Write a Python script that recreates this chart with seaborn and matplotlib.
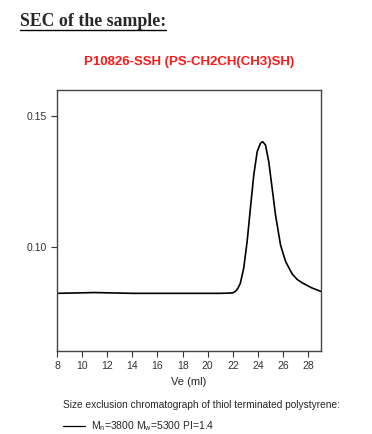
import numpy as np
import pandas as pd
import matplotlib
matplotlib.use("Agg")
import matplotlib.pyplot as plt
import seaborn as sns
from matplotlib.lines import Line2D

# Elution volume (ml) and detector response
ve = [8.0, 9.0, 10.0, 11.0, 12.0, 13.0, 14.0, 16.0, 18.0, 20.0, 21.0, 21.8,
      22.0, 22.2, 22.4, 22.6, 22.87, 23.14, 23.40, 23.67, 23.94, 24.20,
      24.38, 24.60, 24.86, 25.13, 25.40, 25.80, 26.20, 26.73, 27.13, 27.53,
      28.33, 29.04]
signal = [0.0821, 0.0822, 0.0823, 0.0824, 0.0823, 0.0822, 0.0821, 0.0821,
          0.0821, 0.0821, 0.0821, 0.0822,
          0.0823, 0.0828, 0.0840, 0.0860, 0.0918, 0.1020, 0.1147, 0.1275,
          0.1364, 0.1396, 0.1402, 0.1389, 0.1326, 0.1224, 0.1121, 0.1006,
          0.0943, 0.0895, 0.0874, 0.0861, 0.0841, 0.0828]
x_ticks = [8, 10, 12, 14, 16, 18, 20, 22, 24, 26, 28]
y_ticks = [0.10, 0.15]

df = pd.DataFrame({"Ve": ve, "signal": signal})

sns.set_style("white")
plt.rcParams["font.family"] = ["Liberation Sans", "DejaVu Sans"]
plt.rcParams["mathtext.default"] = "regular"

fig = plt.figure(figsize=(3.72, 4.34), dpi=100)
ax = fig.add_axes([0.1532, 0.1912, 0.709, 0.6014])

sns.lineplot(data=df, x="Ve", y="signal", ax=ax, color="black", linewidth=1.2)

ax.set_xlim(8, 29)
ax.set_ylim(0.06, 0.16)
ax.set_xticks(x_ticks)
ax.set_yticks(y_ticks)
ax.set_yticklabels(["%.2f" % v for v in y_ticks])
ax.set_xlabel("Ve (ml)", fontsize=8, labelpad=4)
ax.set_ylabel("")
ax.tick_params(axis="both", direction="out", length=4, width=0.8,
               labelsize=7.5, colors="#333333", left=True, bottom=True)
for s in ax.spines.values():
    s.set_color("#444444")
    s.set_linewidth(1.0)

# header texts
fig.text(20 / 372, 1 - 22 / 434, "SEC of the sample:", fontsize=12.8,
         fontweight="bold", family="Liberation Serif", va="center", ha="left")
fig.add_artist(Line2D([20 / 372, 166 / 372], [1 - 30 / 434, 1 - 30 / 434],
                      color="black", linewidth=1.0))
fig.text(189 / 372, 1 - 62 / 434, "P10826-SSH (PS-CH2CH(CH3)SH)",
         fontsize=9.5, fontweight="bold", color="#ff1a1a",
         ha="center", va="center")

# caption
fig.text(63 / 372, 1 - 405 / 434,
         "Size exclusion chromatograph of thiol terminated polystyrene:",
         fontsize=7.3, ha="left", va="center")
fig.add_artist(Line2D([63 / 372, 85 / 372], [1 - 426 / 434, 1 - 426 / 434],
                      color="black", linewidth=0.9))
fig.text(91 / 372, 1 - 426 / 434, "M$_n$=3800 M$_w$=5300 PI=1.4",
         fontsize=7.5, ha="left", va="center")

fig.savefig("out.png", dpi=100)
